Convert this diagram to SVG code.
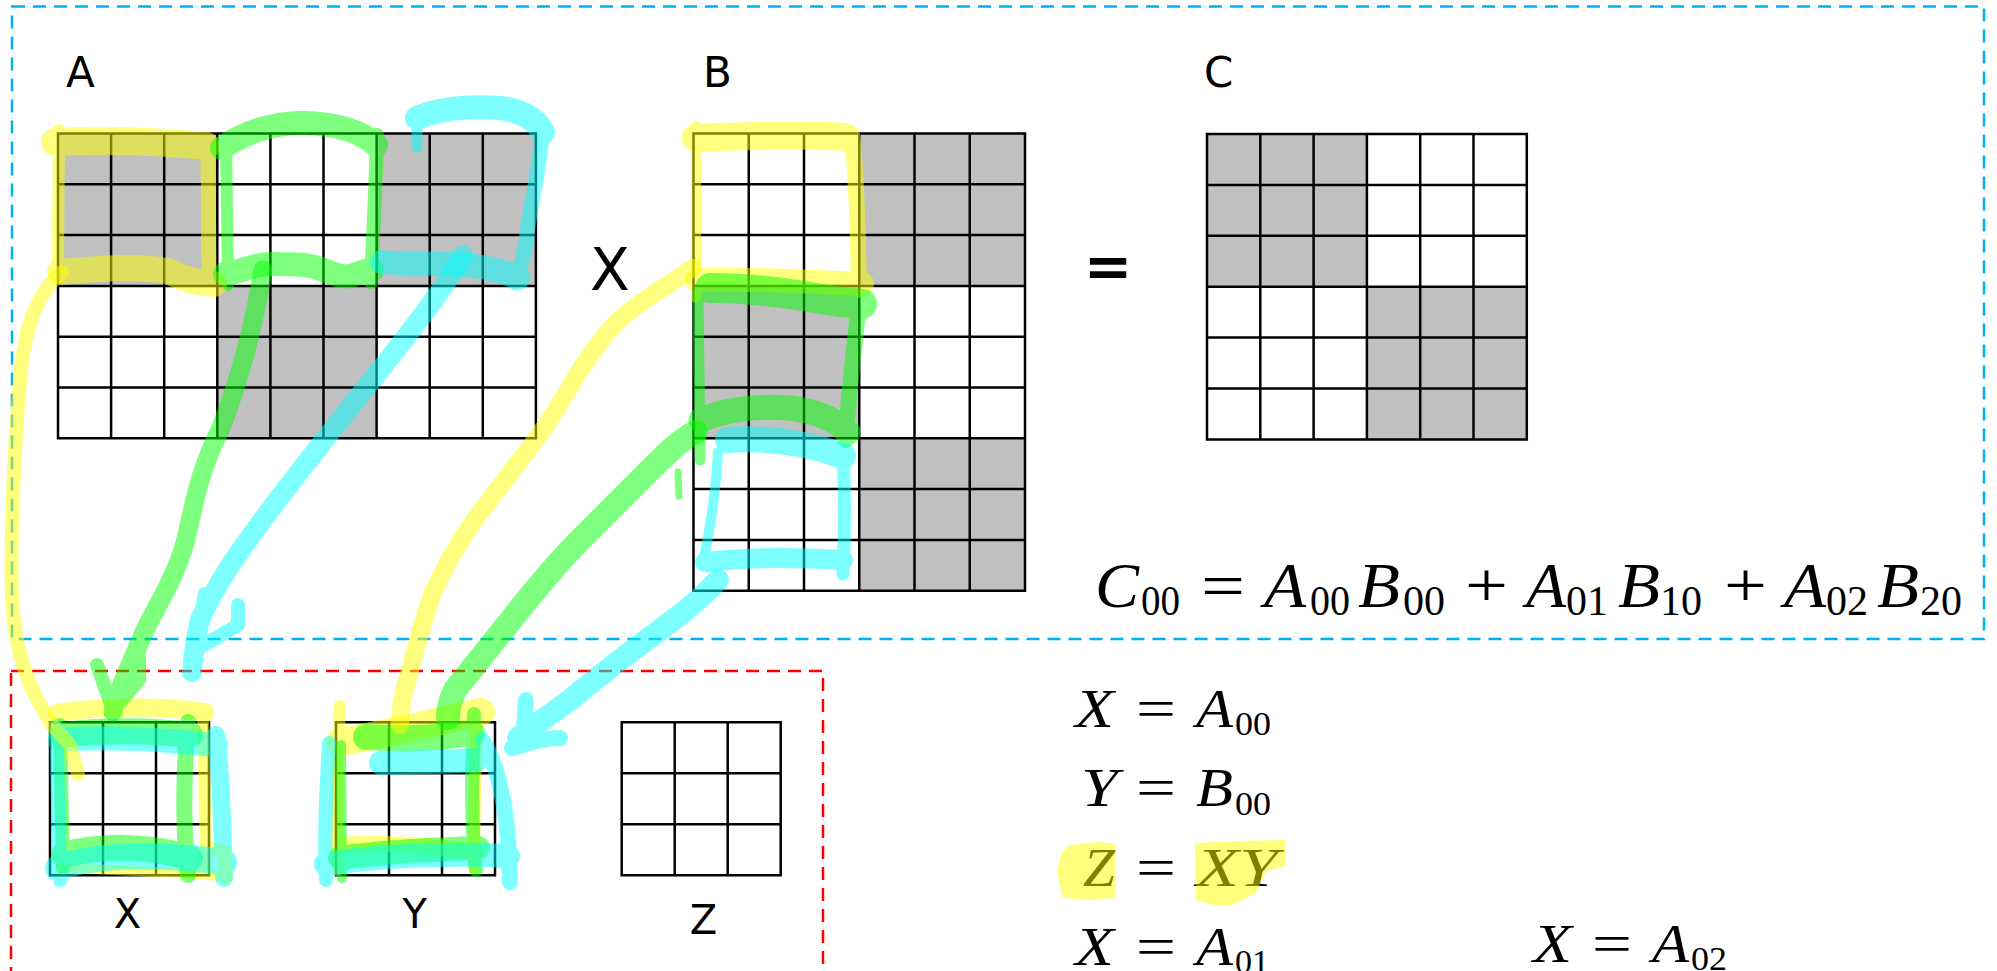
<svg xmlns="http://www.w3.org/2000/svg" width="1997" height="971" viewBox="0 0 1997 971">
<style>
.bg{fill:#fff}
.gray{fill:#c0c0c0}
.grid{fill:none;stroke:#000;stroke-width:2.5;stroke-linecap:square}
.lbl{font-family:"DejaVu Sans",sans-serif;font-size:42px;fill:#000}
.sm{font-size:40px}
.m{font-family:"Liberation Serif","Times New Roman",serif;fill:#000}
.it{font-style:italic}
.L{font-size:63px}
.Ls{font-size:43px}
.S{font-size:54px}
.Ss{font-size:33px}
.box{fill:none;stroke-width:2.5;stroke-dasharray:13 8}
.hl{opacity:.5}
.hl path{fill:none;stroke-linecap:round;stroke-linejoin:round}
.hy path{stroke:#ffff00}
.hg path{stroke:#00ff00}
.hc path{stroke:#00ffff}
</style>
<rect class="bg" x="0" y="0" width="1997" height="971"/>

<g id="frames">
<rect class="box" x="12" y="6.5" width="1972" height="632.5" stroke="#00b0f0"/>
<rect class="box" x="11" y="671" width="812" height="340" stroke="#ff0000"/>
</g>

<g id="matrix-A">
<rect class="gray" x="58" y="133.5" width="159.3" height="152.4"/>
<rect class="gray" x="376.6" y="133.5" width="159.3" height="152.4"/>
<rect class="gray" x="217.3" y="285.9" width="159.3" height="152.4"/>
<path class="grid" d="M58 133.5V438.3M111.1 133.5V438.3M164.2 133.5V438.3M217.3 133.5V438.3M270.4 133.5V438.3M323.5 133.5V438.3M376.6 133.5V438.3M429.7 133.5V438.3M482.8 133.5V438.3M535.9 133.5V438.3M58 133.5H535.9M58 184.3H535.9M58 235.1H535.9M58 285.9H535.9M58 336.7H535.9M58 387.5H535.9M58 438.3H535.9"/>
<text class="lbl" x="66" y="87">A</text>
</g>

<g id="times-sign"><text class="lbl" x="590" y="290" style="font-size:58px">X</text></g>

<g id="matrix-B">
<rect class="gray" x="859.25" y="133.5" width="165.75" height="152.4"/>
<rect class="gray" x="693.5" y="285.9" width="165.75" height="152.4"/>
<rect class="gray" x="859.25" y="438.3" width="165.75" height="152.4"/>
<path class="grid" d="M693.5 133.5V590.7M748.75 133.5V590.7M804 133.5V590.7M859.25 133.5V590.7M914.5 133.5V590.7M969.75 133.5V590.7M1025 133.5V590.7M693.5 133.5H1025M693.5 184.3H1025M693.5 235.1H1025M693.5 285.9H1025M693.5 336.7H1025M693.5 387.5H1025M693.5 438.3H1025M693.5 489.1H1025M693.5 539.9H1025M693.5 590.7H1025"/>
<text class="lbl" x="703" y="87">B</text>
</g>

<g id="equals-sign"><text class="lbl" x="1108" y="286" text-anchor="middle" style="font-size:58px;font-weight:bold">=</text></g>

<g id="matrix-C">
<rect class="gray" x="1207" y="134" width="159.9" height="152.7"/>
<rect class="gray" x="1366.9" y="286.7" width="159.9" height="152.7"/>
<path class="grid" d="M1207 134V439.4M1260.3 134V439.4M1313.6 134V439.4M1366.9 134V439.4M1420.2 134V439.4M1473.5 134V439.4M1526.8 134V439.4M1207 134H1526.8M1207 184.9H1526.8M1207 235.8H1526.8M1207 286.7H1526.8M1207 337.6H1526.8M1207 388.5H1526.8M1207 439.4H1526.8"/>
<text class="lbl" x="1204" y="87">C</text>
</g>

<g id="tile-X">
<path class="grid" d="M50 722.3V875.3M103 722.3V875.3M156 722.3V875.3M209 722.3V875.3M50 722.3H209M50 773.3H209M50 824.3H209M50 875.3H209"/>
<text class="lbl sm" x="127.4" y="928" text-anchor="middle">X</text>
</g>
<g id="tile-Y">
<path class="grid" d="M336 722.3V875.3M389 722.3V875.3M442 722.3V875.3M495 722.3V875.3M336 722.3H495M336 773.3H495M336 824.3H495M336 875.3H495"/>
<text class="lbl sm" x="414.6" y="928" text-anchor="middle">Y</text>
</g>
<g id="tile-Z">
<path class="grid" d="M621.7 722.3V875.3M674.7 722.3V875.3M727.7 722.3V875.3M780.7 722.3V875.3M621.7 722.3H780.7M621.7 773.3H780.7M621.7 824.3H780.7M621.7 875.3H780.7"/>
<text class="lbl sm" x="703.5" y="934" text-anchor="middle">Z</text>
</g>

<g id="equation-C00" class="m">
<text class="L it" x="1095" y="607" textLength="44" lengthAdjust="spacingAndGlyphs">C</text>
<text class="Ls" x="1141" y="615" textLength="39" lengthAdjust="spacingAndGlyphs">00</text>
<text class="L" x="1201" y="607" textLength="44" lengthAdjust="spacingAndGlyphs">=</text>
<text class="L it" x="1264" y="607" textLength="42" lengthAdjust="spacingAndGlyphs">A</text>
<text class="Ls" x="1310" y="615" textLength="40" lengthAdjust="spacingAndGlyphs">00</text>
<text class="L it" x="1358" y="607" textLength="42" lengthAdjust="spacingAndGlyphs">B</text>
<text class="Ls" x="1403" y="615" textLength="42" lengthAdjust="spacingAndGlyphs">00</text>
<text class="L" x="1465" y="607" textLength="43" lengthAdjust="spacingAndGlyphs">+</text>
<text class="L it" x="1526" y="607" textLength="40" lengthAdjust="spacingAndGlyphs">A</text>
<text class="Ls" x="1566" y="615" textLength="42" lengthAdjust="spacingAndGlyphs">01</text>
<text class="L it" x="1618" y="607" textLength="42" lengthAdjust="spacingAndGlyphs">B</text>
<text class="Ls" x="1660" y="615" textLength="42" lengthAdjust="spacingAndGlyphs">10</text>
<text class="L" x="1724" y="607" textLength="43" lengthAdjust="spacingAndGlyphs">+</text>
<text class="L it" x="1784" y="607" textLength="42" lengthAdjust="spacingAndGlyphs">A</text>
<text class="Ls" x="1826" y="615" textLength="42" lengthAdjust="spacingAndGlyphs">02</text>
<text class="L it" x="1877" y="607" textLength="42" lengthAdjust="spacingAndGlyphs">B</text>
<text class="Ls" x="1920" y="615" textLength="42" lengthAdjust="spacingAndGlyphs">20</text>
</g>

<g id="step-1" class="m">
<text class="S it" x="1075" y="726.7" textLength="39" lengthAdjust="spacingAndGlyphs">X</text>
<text class="S" x="1136" y="726.7" textLength="40" lengthAdjust="spacingAndGlyphs">=</text>
<text class="S it" x="1196" y="726.7" textLength="37" lengthAdjust="spacingAndGlyphs">A</text>
<text class="Ss" x="1235" y="735" textLength="36" lengthAdjust="spacingAndGlyphs">00</text>
</g>
<g id="step-2" class="m">
<text class="S it" x="1081" y="806" textLength="37" lengthAdjust="spacingAndGlyphs">Y</text>
<text class="S" x="1136" y="806" textLength="40" lengthAdjust="spacingAndGlyphs">=</text>
<text class="S it" x="1196" y="806" textLength="37" lengthAdjust="spacingAndGlyphs">B</text>
<text class="Ss" x="1235" y="815" textLength="36" lengthAdjust="spacingAndGlyphs">00</text>
</g>
<g id="step-3" class="m">
<text class="S it" x="1083" y="886" textLength="32" lengthAdjust="spacingAndGlyphs">Z</text>
<text class="S" x="1136" y="886" textLength="40" lengthAdjust="spacingAndGlyphs">=</text>
<text class="S it" x="1196" y="886" textLength="82" lengthAdjust="spacingAndGlyphs">XY</text>
</g>
<g id="step-4" class="m">
<text class="S it" x="1075" y="965" textLength="39" lengthAdjust="spacingAndGlyphs">X</text>
<text class="S" x="1136" y="965" textLength="40" lengthAdjust="spacingAndGlyphs">=</text>
<text class="S it" x="1196" y="965" textLength="37" lengthAdjust="spacingAndGlyphs">A</text>
<text class="Ss" x="1235" y="973" textLength="34" lengthAdjust="spacingAndGlyphs">01</text>
</g>
<g id="step-5" class="m">
<text class="S it" x="1533" y="961.7" textLength="39" lengthAdjust="spacingAndGlyphs">X</text>
<text class="S" x="1592" y="961.7" textLength="40" lengthAdjust="spacingAndGlyphs">=</text>
<text class="S it" x="1652" y="961.7" textLength="37" lengthAdjust="spacingAndGlyphs">A</text>
<text class="Ss" x="1691" y="970" textLength="36" lengthAdjust="spacingAndGlyphs">02</text>
</g>

<g id="highlights">
<g class="hl hy">
<path d="M55 142C100 140 160 141 206 146" stroke-width="28"/>
<path d="M208 140L209 286" stroke-width="15"/>
<path d="M60 272C100 268 150 266 170 272C185 280 200 283 214 284" stroke-width="26"/>
<path d="M59 130L58 268" stroke-width="12"/>
</g>
<g class="hl hg">
<path d="M222 148C245 132 275 122 305 123C335 124 360 130 376 145" stroke-width="24"/>
<path d="M377 135C376 180 373 240 371 282" stroke-width="14"/>
<path d="M225 274C240 272 255 264 270 264C290 264 305 264 318 268C330 272 340 278 350 276C360 273 365 270 372 270" stroke-width="24"/>
<path d="M226 138L228 285" stroke-width="12"/>
</g>
<g class="hl hc">
<path d="M417 112L417 147" stroke-width="11"/>
<path d="M417 118C440 108 470 106 500 108C520 110 535 118 543 132" stroke-width="24"/>
<path d="M542 130C540 170 530 205 527 235C524 260 518 275 515 283" stroke-width="15"/>
<path d="M382 262C395 264 420 263 450 264C490 266 505 272 518 278" stroke-width="24"/>
</g>
<g class="hl hy">
<path d="M696 138C750 136 800 134 845 137" stroke-width="28"/>
<path d="M852 135C856 170 858 230 859 290" stroke-width="16"/>
<path d="M697 280C750 279 800 281 862 284" stroke-width="24"/>
<path d="M696 126L696 298" stroke-width="10"/>
</g>
<g class="hl hg">
<path d="M710 288C740 288 780 292 810 297C835 302 850 303 862 304" stroke-width="30"/>
<path d="M859 298C856 340 848 390 846 440" stroke-width="16"/>
<path d="M701 420C720 412 750 405 790 408C820 412 835 420 848 432" stroke-width="25"/>
<path d="M698 292L700 460" stroke-width="11"/>
<path d="M678 472L679 496" stroke-width="7"/>
</g>
<g class="hl hc">
<path d="M728 440C760 438 800 440 843 456" stroke-width="26"/>
<path d="M843 450C845 490 845 530 843 574" stroke-width="13"/>
<path d="M705 562C740 558 780 556 843 560" stroke-width="20"/>
<path d="M718 452C716 490 710 530 703 562" stroke-width="10"/>
</g>
<g class="hl hy">
<path d="M57 713C100 706 160 706 205 712" stroke-width="18"/>
<path d="M203 712L206 870" stroke-width="12"/>
<path d="M208 848L224 852L226 877" stroke-width="14"/>
<path d="M60 868C120 870 170 872 222 876" stroke-width="10"/>
</g>
<g class="hl hg">
<path d="M62 735C100 730 150 730 190 735" stroke-width="26"/>
<path d="M188 722C183 780 183 830 188 875" stroke-width="16"/>
<path d="M64 855C100 845 150 845 190 858" stroke-width="26"/>
<path d="M60 725L63 868" stroke-width="14"/>
</g>
<g class="hl hc">
<path d="M60 740C100 736 170 740 216 745" stroke-width="24"/>
<path d="M216 735C222 780 222 830 224 878" stroke-width="18"/>
<path d="M58 868C100 852 170 855 224 862" stroke-width="26"/>
<path d="M56 726C58 780 58 830 60 880" stroke-width="14"/>
</g>
<g class="hl hy">
<path d="M340 742C390 733 440 721 481 712" stroke-width="28"/>
<path d="M340 706C338 760 336 820 338 870" stroke-width="12"/>
<path d="M477 712C476 760 474 820 474 868" stroke-width="12"/>
<path d="M338 845C380 842 430 845 476 852" stroke-width="16"/>
</g>
<g class="hl hg">
<path d="M366 737C400 739 440 738 472 733" stroke-width="26"/>
<path d="M474 714C472 760 470 820 476 870" stroke-width="14"/>
<path d="M340 858C380 852 430 850 478 848" stroke-width="24"/>
<path d="M341 745L342 878" stroke-width="10"/>
</g>
<g class="hl hc">
<path d="M381 763C410 762 450 762 476 760" stroke-width="24"/>
<path d="M482 740C496 760 505 800 508 840L510 882" stroke-width="16"/>
<path d="M326 864C380 856 440 853 508 856" stroke-width="24"/>
<path d="M329 743C326 790 324 840 326 880" stroke-width="14"/>
</g>
<g class="hl hy">
<path d="M1070 845L1100 842L1116 844L1115 898L1082 900L1062 897L1057 870L1062 852Z" style="fill:#ffff00;stroke:none"/>
<path d="M1195 843L1240 841L1285 840L1285 866L1266 871L1256 893L1232 905L1212 905L1196 900Z" style="fill:#ffff00;stroke:none"/>
</g>
</g>

<g id="connectors">
<g class="hl hy">
<path d="M62 272C40 290 25 320 20 380C14 450 10 540 12 600C16 660 30 690 52 725L70 745L78 774" stroke-width="14"/>
</g>
<g class="hl hg">
<path d="M263 270C255 320 240 380 220 430C200 470 195 500 188 530C180 570 160 600 145 630C130 665 118 690 113 712" stroke-width="19"/>
<path d="M97 665L112 707" stroke-width="14"/>
<path d="M140 657L140 680L118 706" stroke-width="12"/>
</g>
<g class="hl hc">
<path d="M463 255C450 280 420 320 380 370C340 420 300 470 270 510C240 550 215 585 200 620C195 640 193 660 192 672" stroke-width="20"/>
<path d="M204 593L198 625L196 660" stroke-width="12"/>
<path d="M238 605L238 625L204 645" stroke-width="14"/>
</g>
<g class="hl hy">
<path d="M692 268C670 285 640 300 616 323C600 340 590 355 580 370C565 395 545 430 520 460C505 480 490 500 478 515C460 540 445 565 432 595C425 615 418 640 410 670C404 690 400 705 400 725" stroke-width="18"/>
</g>
<g class="hl hg">
<path d="M696 432C680 440 665 455 650 470C620 500 600 520 580 540C555 565 535 590 515 615C495 640 475 665 455 690C450 700 448 710 448 718" stroke-width="24"/>
</g>
<g class="hl hc">
<path d="M718 580C700 600 680 615 660 630C630 652 600 675 570 700C550 715 530 728 518 738" stroke-width="22"/>
<path d="M526 700L523 745" stroke-width="16"/>
<path d="M512 748C530 742 545 738 560 738" stroke-width="16"/>
</g>
</g>
</svg>
